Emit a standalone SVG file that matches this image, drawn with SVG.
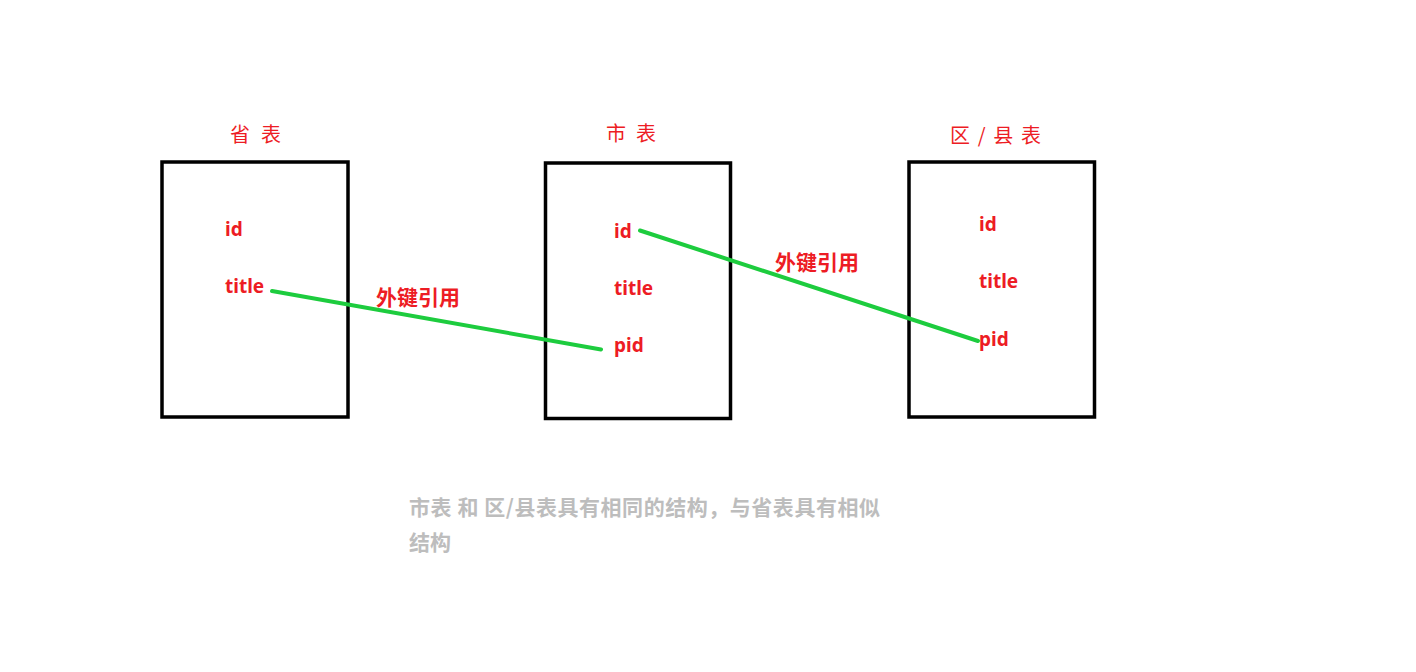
<svg xmlns="http://www.w3.org/2000/svg" width="1416" height="672" viewBox="0 0 1416 672">
<style>
.box{fill:none;stroke:#000;stroke-width:3.5}
.title{font-family:"Noto Sans CJK SC","Noto Sans",sans-serif;font-size:20px;fill:#ed1c24}
.field{font-family:"Noto Sans","Noto Sans CJK SC",sans-serif;font-size:19px;font-weight:bold;fill:#ed1c24}
.fk{font-family:"Noto Sans CJK SC",sans-serif;font-size:21px;font-weight:bold;fill:#ed1c24}
.note{font-family:"Noto Sans CJK SC",sans-serif;font-size:21px;font-weight:bold;fill:#bdbdbd}
.link{stroke:#1dcc3e;stroke-width:4;stroke-linecap:round;fill:none}
</style>
<rect width="1416" height="672" fill="#fff"/>
<g id="province">
<text class="title" x="230" y="142" textLength="51">省 表</text>
<rect class="box" x="162" y="162" width="186" height="255"/>
<text class="field" x="225" y="236">id</text>
<text class="field" x="225" y="293">title</text>
</g>
<g id="city">
<text class="title" x="606" y="141" textLength="50">市 表</text>
<rect class="box" x="545.5" y="163" width="185" height="255.5"/>
<text class="field" x="614" y="237.5">id</text>
<text class="field" x="614" y="294.5">title</text>
<text class="field" x="614" y="351.5">pid</text>
</g>
<g id="district">
<text class="title" x="950" y="143" textLength="91">区 / 县 表</text>
<rect class="box" x="909" y="162" width="185.5" height="255"/>
<text class="field" x="979" y="230.5">id</text>
<text class="field" x="979" y="288">title</text>
<text class="field" x="979" y="346">pid</text>
</g>
<g id="connectors">
<line class="link" x1="272" y1="291" x2="601" y2="349.5"/>
<line class="link" x1="640" y1="230.5" x2="978" y2="341"/>
<text class="fk" x="376" y="305">外键引用</text>
<text class="fk" x="775" y="270">外键引用</text>
</g>
<g id="note">
<text class="note" x="409" y="515" textLength="471">市表 和 区/县表具有相同的结构，与省表具有相似</text>
<text class="note" x="409" y="550">结构</text>
</g>
</svg>
